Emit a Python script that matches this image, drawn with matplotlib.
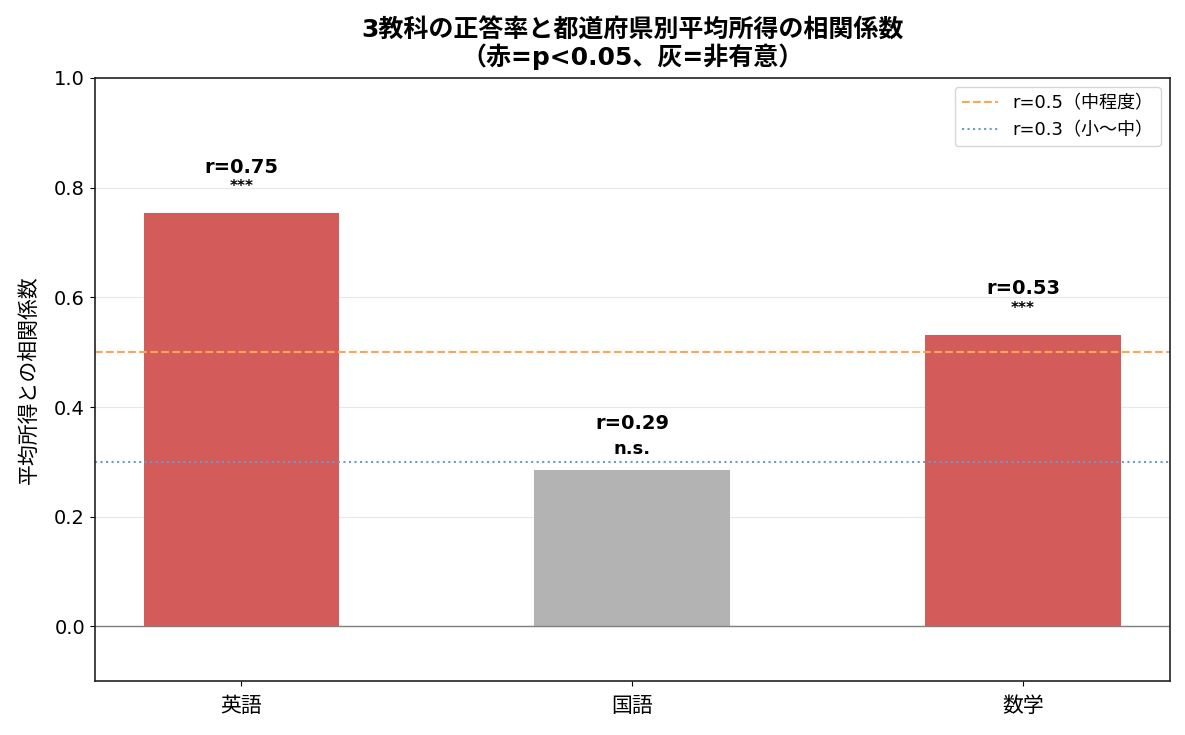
import matplotlib
matplotlib.use("Agg")
import matplotlib.pyplot as plt

plt.rcParams['font.family'] = ['DejaVu Sans', 'Noto Sans CJK JP']

# 科目と相関係数
subjects = ['英語', '国語', '数学']
r_values = [0.754, 0.286, 0.532]
r_labels = ['r=0.75', 'r=0.29', 'r=0.53']
sig_labels = ['***', 'n.s.', '***']
significant = [True, False, True]

fig, ax = plt.subplots(figsize=(11.85, 7.35), dpi=100)

colors = ['#d35b59' if s else '#b3b3b3' for s in significant]
ax.bar(subjects, r_values, width=0.5, color=colors)

for i, (v, rl, sl) in enumerate(zip(r_values, r_labels, sig_labels)):
    ax.text(i, v + 0.066, rl, ha='center', va='bottom',
            fontsize=14, fontweight='bold')
    if sl == '***':
        ax.text(i, v + 0.034, sl, ha='center', va='bottom',
                fontsize=11, fontweight='bold')
    else:
        ax.text(i, v + 0.022, sl, ha='center', va='bottom',
                fontsize=13, fontweight='bold')

ax.axhline(0, color='gray', linewidth=1)
ax.axhline(0.5, color='#ffa54f', linestyle='--', linewidth=1.5, label='r=0.5（中程度）')
ax.axhline(0.3, color='#6a9ad0', linestyle=':', linewidth=1.5, label='r=0.3（小〜中）')

ax.set_ylim(-0.1, 1.0)
ax.set_ylabel('平均所得との相関係数', fontsize=15, labelpad=11)
ax.set_title('3教科の正答率と都道府県別平均所得の相関係数\n（赤=p<0.05、灰=非有意）',
             fontsize=18, fontweight='bold', linespacing=1.05, pad=9)
ax.tick_params(axis='y', labelsize=14)
ax.tick_params(axis='x', labelsize=15, pad=7)
ax.grid(axis='y', alpha=0.3)
ax.set_axisbelow(True)
for s in ax.spines.values():
    s.set_color('#222222')
    s.set_linewidth(1.2)
ax.legend(loc='upper right', fontsize=13)

plt.subplots_adjust(left=0.08, right=0.987, top=0.894, bottom=0.073)
plt.savefig('out.png', dpi=100)
